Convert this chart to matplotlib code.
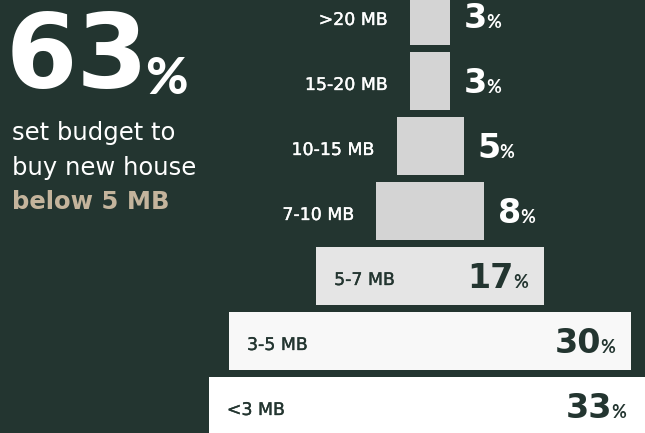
import matplotlib
matplotlib.use('Agg')
import matplotlib.pyplot as plt
import matplotlib.patheffects as pe

# data (top to bottom)
labels = ['>20 MB', '15-20 MB', '10-15 MB', '7-10 MB', '5-7 MB', '3-5 MB', '<3 MB']
values = [3, 3, 5, 8, 17, 30, 33]
bar_colors = ['#d4d4d4', '#d4d4d4', '#d4d4d4', '#d4d4d4', '#e5e5e5', '#f8f8f8', '#ffffff']

BG = '#233530'
DARK = '#233530'
TAN = '#c4b49c'
W, H, DPI = 645, 433, 100

plt.rcParams['font.family'] = ['Lato', 'DejaVu Sans']
NUMFONT = ['DejaVu Sans']
TXTFONT = ['DejaVu Sans']

fig = plt.figure(figsize=(W / DPI, H / DPI), dpi=DPI, facecolor=BG)
ax = fig.add_axes([0, 0, 1, 1])
ax.set_facecolor(BG)

px_per_pct = 13.4
cx = 430
ax.set_xlim(-cx / px_per_pct, (W - cx) / px_per_pct)
ax.set_ylim((H - 16) / 65, -16 / 65)
ax.axis('off')

ypos = list(range(len(values)))
ax.barh(ypos, values, left=[-v / 2 for v in values], height=58 / 65,
        color=bar_colors, edgecolor='none')

pt = 72 / DPI  # pixels -> points


def medium(color):
    # thin outline in the same colour to thicken the regular weight a bit
    return [pe.withStroke(linewidth=0.25, foreground=color)]


def pct_label(y, edge, inside, pad):
    n = str(values[y])
    num_kw = dict(fontsize=24, fontweight='bold', family=NUMFONT, va='baseline',
                  annotation_clip=False)
    sign_kw = dict(fontsize=13, fontweight='bold', va='baseline', annotation_clip=False)
    if inside:
        sign = ax.annotate('%', xy=(edge, y), xytext=(-pad * pt, -12 * pt),
                           textcoords='offset points', ha='right', color=DARK, **sign_kw)
        ax.annotate(n, xy=(0, y), xycoords=(sign, 'data'), xytext=(1 * pt, -12 * pt),
                    textcoords='offset points', ha='right', color=DARK, **num_kw)
    else:
        num = ax.annotate(n, xy=(edge, y), xytext=(pad * pt, -12 * pt),
                          textcoords='offset points', ha='left', color='white', **num_kw)
        ax.annotate('%', xy=(1, y), xycoords=(num, 'data'), xytext=(-1 * pt, -12 * pt),
                    textcoords='offset points', ha='left', color='white', **sign_kw)


for i, (lab, v) in enumerate(zip(labels, values)):
    left, right = -v / 2, v / 2
    if v < 10:
        ax.annotate(lab, xy=(left, i), xytext=(-22 * pt, -9 * pt), textcoords='offset points',
                    ha='right', va='baseline', fontsize=12.5, family=TXTFONT, color='white',
                    path_effects=medium('white'))
        pct_label(i, right, False, 14)
    else:
        ax.annotate(lab, xy=(left, i), xytext=(18 * pt, -9 * pt), textcoords='offset points',
                    ha='left', va='baseline', fontsize=12.5, family=TXTFONT, color=DARK,
                    annotation_clip=False, path_effects=medium(DARK))
        pct_label(i, right, True, 25 if i == len(values) - 1 else 16)

# headline on the left
big = fig.text(6 / W, 1 - 88 / H, '63', fontsize=74, fontweight='bold', family=NUMFONT,
               color='white', ha='left', va='baseline')
ax.annotate('%', xy=(1, 1 - 94 / H), xycoords=(big, 'figure fraction'), xytext=(-3, 0),
            textcoords='offset points', fontsize=37, fontweight='black', color='white',
            ha='left', va='baseline')
fig.text(12 / W, 1 - 140 / H, 'set budget to', fontsize=17.5, family=TXTFONT, color='white',
         ha='left', va='baseline')
fig.text(12 / W, 1 - 174.5 / H, 'buy new house', fontsize=17.5, family=TXTFONT, color='white',
         ha='left', va='baseline')
fig.text(12 / W, 1 - 209 / H, 'below 5 MB', fontsize=17.5, fontweight='bold', family=TXTFONT,
         color=TAN, ha='left', va='baseline')

fig.savefig('out.png', dpi=DPI, facecolor=BG)
